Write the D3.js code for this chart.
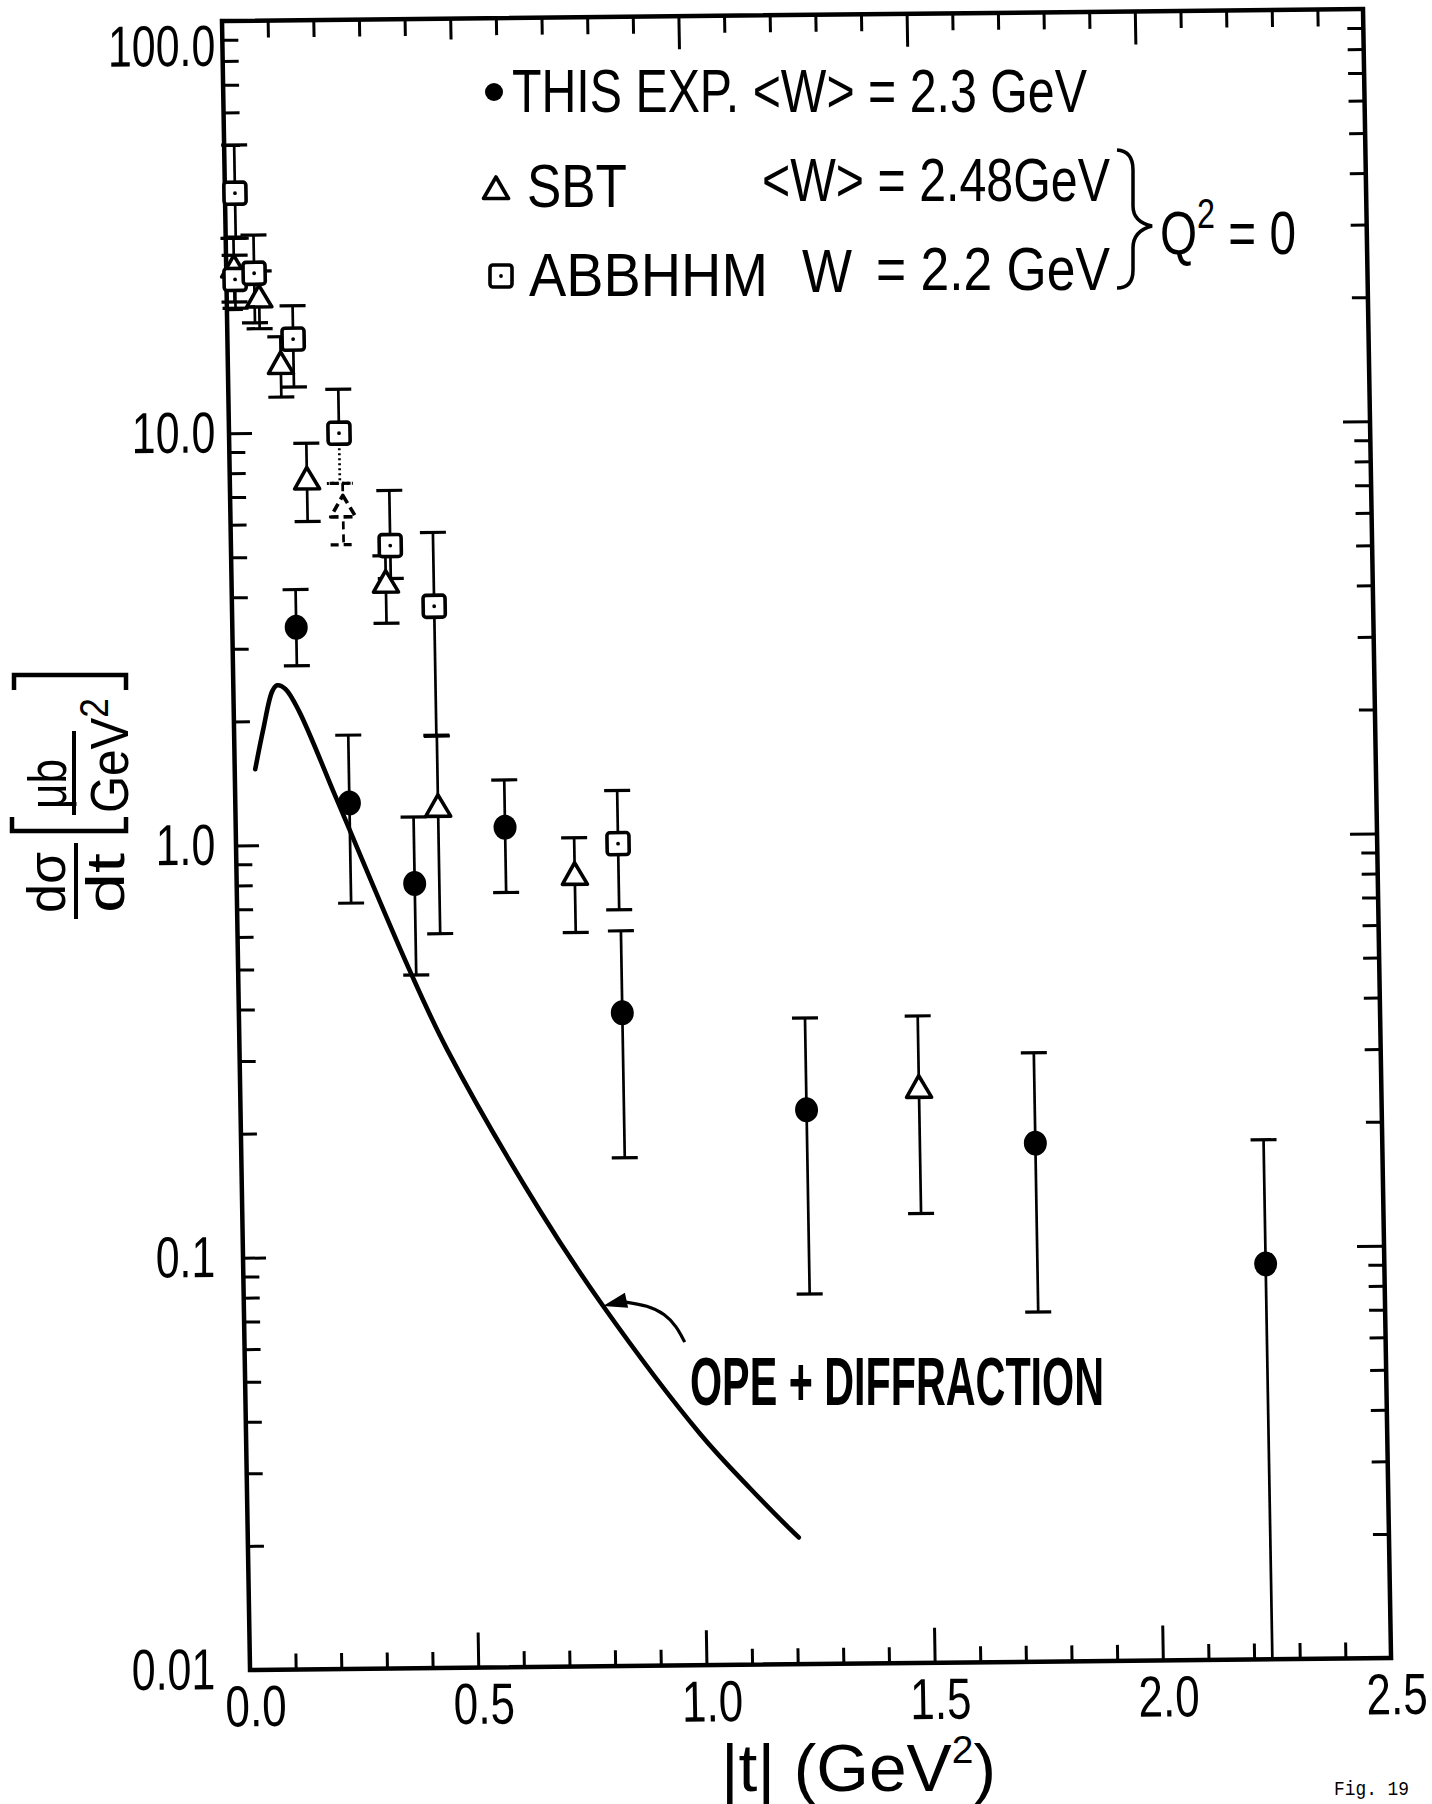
<!DOCTYPE html>
<html>
<head>
<meta charset="utf-8">
<script src="https://cdn.jsdelivr.net/npm/d3@7"></script>
<style>
  html, body { margin: 0; padding: 0; background: #fff; }
  svg { display: block; }
  text { fill: #000; }
</style>
</head>
<body>
<svg id="chart" width="1432" height="1804"></svg>
<script>
// ---- data: |t| (GeV^2), dsigma/dt (microbarn/GeV^2), error-bar ends ----
const thisT  = [0.14, 0.25, 0.39, 0.59, 0.84, 1.24, 1.74, 2.24];
const thisY  = [3.37, 1.26, 0.80, 1.09, 0.384, 0.221, 0.181, 0.091];
const thisHi = [4.16, 1.84, 1.16, 1.42, 0.607, 0.369, 0.300, 0.182];
const thisLo = [2.72, 0.72, 0.48, 0.757, 0.171, 0.079, 0.0705, 0.01];

const sbtT   = [0.017, 0.071, 0.116, 0.169, 0.247, 0.338, 0.444, 0.741, 1.487];
const sbtY   = [25.1, 21.2, 14.6, 7.65, 6.53, 4.28, 1.22, 0.828, 0.247];
const sbtHi  = [29.7, 24.7, 17.1, 9.41, 7.51, 5.0, 1.82, 1.024, 0.371];
const sbtLo  = [20.8, 17.9, 12.2, 6.08, 5.33, 3.43, 0.604, 0.603, 0.123];
const sbtDashed = [false, false, false, false, true, false, false, false, false];

const abbT   = [0.022, 0.019, 0.061, 0.144, 0.241, 0.349, 0.443, 0.837];
const abbY   = [38.2, 23.6, 24.4, 16.85, 9.94, 5.29, 3.76, 0.988];
const abbHi  = [50.0, 27.0, 30.2, 20.3, 12.7, 7.2, 5.68, 1.33];
const abbLo  = [29.7, 20.1, 18.5, 12.9, 7.51, 4.4, 1.83, 0.683];
const abbDottedLow = [false, false, false, false, true, false, false, false];

// OPE + diffraction model curve
const curveT = [0.045, 0.064, 0.085, 0.096, 0.114, 0.143, 0.217, 0.236, 0.376, 0.455, 0.652, 0.787, 0.995, 1.102, 1.188, 1.207];
const curveY = [1.53, 1.91, 2.36, 2.44, 2.39, 2.11, 1.33, 1.18, 0.492, 0.316, 0.128, 0.0748, 0.0364, 0.0268, 0.0213, 0.0203];
const arrowT = 0.787;

// axis ticks and labels
const xLabelValues = [0, 0.5, 1.0, 1.5, 2.0, 2.5];
const xTickLabels  = ["0.0", "0.5", "1.0", "1.5", "2.0", "2.5"];
const yLabelValues = [100, 10, 1, 0.1, 0.01];
const yTickLabels  = ["100.0", "10.0", "1.0", "0.1", "0.01"];

// ---- layout ----
const FONT = "'Liberation Sans', Arial, sans-serif";
const NARROW = "'Liberation Sans Narrow', 'Liberation Sans', Arial, sans-serif";
const W = 1141, H = 1649;
const frameMatrix = "matrix(1,-0.0105,0.017,1,222,21)";   // slightly skewed sheet
const labelMatrix = "matrix(1,-0.0105,0,1,222,21)";

const svg = d3.select("#chart");
svg.append("rect").attr("width", 1432).attr("height", 1804).attr("fill", "#fff");

const plot = svg.append("g").attr("transform", frameMatrix);

const x = d3.scaleLinear().domain([0, 2.5]).range([0, W]);
const y = d3.scaleLog().domain([0.01, 100]).range([H, 0]);

// narrow lettering: squeeze each label horizontally about its own anchor
function condense(sel, k) {
  sel.attr("transform", `scale(${k},1)`);
}
// place a text whose left end sits at (px, py) and whose width is fixed
function fitText(parent, px, py, width, build) {
  const g = parent.append("g").attr("transform", `translate(${px},${py})`);
  const t = g.append("text");
  build(t);
  const w = t.node().getComputedTextLength();
  t.attr("transform", `scale(${width / w},1)`);
  return t;
}

// ---- ticks (inward on all four sides) ----
const xMinor = d3.range(1, 25).filter(i => i % 5 !== 0).map(i => i / 10);
const xMajor = [0.5, 1.0, 1.5, 2.0];
const yMajor = [0.1, 1, 10];
const yMinor = [0.01, 0.1, 1, 10].flatMap(dec => d3.range(2, 10).map(k => +(k * dec).toPrecision(3)));

function tickGroup(axis, transform) {
  const g = plot.append("g").attr("transform", transform || null).call(axis);
  g.select(".domain").remove();
  g.selectAll(".tick line").attr("stroke", "#000").attr("stroke-width", 3);
  g.selectAll(".tick text").remove();
  return g;
}
tickGroup(d3.axisBottom(x).tickValues(xMinor).tickSize(-16), `translate(0,${H})`);
tickGroup(d3.axisBottom(x).tickValues(xMajor).tickSize(-35), `translate(0,${H})`);
tickGroup(d3.axisTop(x).tickValues(xMinor).tickSize(-17));
tickGroup(d3.axisTop(x).tickValues([0.5]).tickSize(-21));
tickGroup(d3.axisTop(x).tickValues([1.0, 1.5, 2.0]).tickSize(-33));
tickGroup(d3.axisLeft(y).tickValues(yMinor).tickSize(-16));
tickGroup(d3.axisLeft(y).tickValues(yMajor).tickSize(-23));
tickGroup(d3.axisRight(y).tickValues(yMinor).tickSize(-16), `translate(${W},0)`);
tickGroup(d3.axisRight(y).tickValues(yMajor).tickSize(-27), `translate(${W},0)`);

// frame
plot.append("rect").attr("x", 0).attr("y", 0).attr("width", W).attr("height", H)
  .attr("fill", "none").attr("stroke", "#000").attr("stroke-width", 4.5);

// ---- tick labels ----
const xl = plot.append("g").attr("transform", `translate(5,${H})`)
  .call(d3.axisBottom(x).tickValues(xLabelValues).tickSize(0).tickPadding(15)
    .tickFormat((d, i) => xTickLabels[i]));
xl.select(".domain").remove();
xl.attr("font-family", FONT).attr("font-size", 58);
condense(xl.selectAll("text"), 0.76);

const yl = svg.append("g").attr("transform", labelMatrix)
  .call(d3.axisLeft(y).tickValues(yLabelValues).tickSize(0).tickPadding(9)
    .tickFormat((d, i) => yTickLabels[i]));
yl.select(".domain").remove();
yl.attr("font-family", FONT).attr("font-size", 58);
yl.selectAll(".tick text").filter(d => d === 100).attr("dy", "0.76em");
condense(yl.selectAll("text"), 0.74);

// ---- model curve ----
const line = d3.line().x(d => x(d[0])).y(d => y(d[1])).curve(d3.curveCatmullRom.alpha(0.5));
plot.append("path").datum(curveT.map((t, i) => [t, curveY[i]]))
  .attr("d", line).attr("fill", "none").attr("stroke", "#000")
  .attr("stroke-width", 4.6).attr("stroke-linejoin", "round").attr("stroke-linecap", "round");

// arrow pointing at the curve
const ai = d3.minIndex(curveT, t => Math.abs(t - arrowT));
const ax = x(curveT[ai]), ay = y(curveY[ai]);
const arrow = plot.append("g").attr("transform", `translate(${ax},${ay})`);
arrow.append("path").attr("d", "M0,0 L22,-13 L25,2 Z").attr("fill", "#000");
arrow.append("path")
  .attr("d", d3.line().curve(d3.curveBasis)([[20, -4], [45, 0], [62, 9], [73, 21], [81, 37]]))
  .attr("fill", "none").attr("stroke", "#000").attr("stroke-width", 3.2);

// ---- error bars and markers ----
const CAP = 13;
function errorBars(T, Y, Hi, Lo, styleUp, styleLow) {
  const g = plot.append("g").attr("stroke", "#000").attr("fill", "none");
  T.forEach((t, i) => {
    const cx = x(t);
    g.append("line").attr("x1", cx).attr("x2", cx).attr("y1", y(Hi[i])).attr("y2", y(Y[i]))
      .attr("stroke-width", 2.7).attr("stroke-dasharray", styleUp(i));
    g.append("line").attr("x1", cx).attr("x2", cx).attr("y1", y(Y[i])).attr("y2", y(Lo[i]))
      .attr("stroke-width", 2.7).attr("stroke-dasharray", styleLow(i));
    g.append("line").attr("x1", cx - CAP).attr("x2", cx + CAP).attr("y1", y(Hi[i])).attr("y2", y(Hi[i]))
      .attr("stroke-width", 3.2).attr("stroke-dasharray", styleUp(i));
    if (Lo[i] > y.domain()[0]) {
      g.append("line").attr("x1", cx - CAP).attr("x2", cx + CAP).attr("y1", y(Lo[i])).attr("y2", y(Lo[i]))
        .attr("stroke-width", 3.2).attr("stroke-dasharray", styleLow(i));
    }
  });
}
errorBars(abbT, abbY, abbHi, abbLo, () => null, i => abbDottedLow[i] ? "2,3" : null);
errorBars(sbtT, sbtY, sbtHi, sbtLo, i => sbtDashed[i] ? "8,5" : null, i => sbtDashed[i] ? "8,5" : null);
errorBars(thisT, thisY, thisHi, thisLo, () => null, () => null);

const triPath = "M0,-13 L12.5,8.5 L-12.5,8.5 Z";
function triangle(g, cx, cy, dashed) {
  g.append("path").attr("d", triPath).attr("transform", `translate(${cx},${cy})`)
    .attr("fill", "#fff").attr("stroke", "#000").attr("stroke-width", 3.6)
    .attr("stroke-linejoin", "round").attr("stroke-dasharray", dashed ? "9,5" : null);
}
function square(g, cx, cy) {
  g.append("rect").attr("x", cx - 11).attr("y", cy - 11).attr("width", 22).attr("height", 22)
    .attr("rx", 3).attr("fill", "#fff").attr("stroke", "#000").attr("stroke-width", 3.6);
  g.append("circle").attr("cx", cx).attr("cy", cy).attr("r", 1.9).attr("fill", "#000");
}

const marks = plot.append("g");
sbtT.forEach((t, i) => triangle(marks, x(t), y(sbtY[i]), sbtDashed[i]));
abbT.forEach((t, i) => square(marks, x(t), y(abbY[i])));
thisT.forEach((t, i) => marks.append("ellipse").attr("cx", x(t)).attr("cy", y(thisY[i]))
  .attr("rx", 11.5).attr("ry", 12.5).attr("fill", "#000"));

// ---- legend ----
const leg = svg.append("g").attr("font-family", NARROW).attr("font-size", 62);
leg.append("circle").attr("cx", 494).attr("cy", 92).attr("r", 9).attr("fill", "#000");
fitText(leg, 512, 112, 575, t => t.text("THIS EXP. <W> = 2.3 GeV"));

triangle(leg, 496, 190, false);
fitText(leg, 527, 207, 100, t => t.text("SBT"));
fitText(leg, 762, 201, 348, t => t.text("<W> = 2.48GeV"));

square(leg, 501, 276);
fitText(leg, 529, 296, 239, t => t.text("ABBHHM"));
fitText(leg, 802, 292, 50, t => t.text("W"));
fitText(leg, 876, 290, 234, t => t.text("= 2.2 GeV"));

// brace grouping the two Q^2 = 0 entries
leg.append("path")
  .attr("d", "M1117,150 Q1133,151 1133,170 L1133,206 Q1133,222 1152,226 Q1133,231 1133,248 L1133,270 Q1133,288 1117,288")
  .attr("fill", "none").attr("stroke", "#000").attr("stroke-width", 3.5);
fitText(leg, 1160, 254, 136, t => {
  t.append("tspan").text("Q");
  t.append("tspan").attr("dy", -26).attr("font-size", 42).text("2");
  t.append("tspan").attr("dy", 26).text(" = 0");
});

// ---- curve annotation ----
const ann = svg.append("g").attr("font-family", NARROW).attr("font-weight", "bold").attr("font-size", 68);
fitText(ann, 690, 1405, 414, t => t.text("OPE + DIFFRACTION"));

// ---- axis titles ----
const xt = svg.append("g").attr("font-family", FONT).attr("font-size", 66);
fitText(xt, 721, 1791, 275, t => {
  t.append("tspan").text("|t| (GeV");
  t.append("tspan").attr("dy", -28).attr("font-size", 38).text("2");
  t.append("tspan").attr("dy", 28).text(")");
});

// rotated y title: dσ/dt [μb/GeV²]
const yt = svg.append("g").attr("transform", "translate(0,921) rotate(-90)")
  .attr("font-family", FONT).attr("font-size", 54);
fitText(yt, 8, 65, 61, t => t.text("dσ"));
yt.append("line").attr("x1", 2).attr("x2", 78).attr("y1", 76).attr("y2", 76)
  .attr("stroke", "#000").attr("stroke-width", 4);
fitText(yt, 8, 124, 60, t => t.text("dt"));
yt.append("path").attr("d", "M104,12 L90,12 L90,126 L104,126")
  .attr("fill", "none").attr("stroke", "#000").attr("stroke-width", 4.5);
fitText(yt, 112, 66, 50, t => t.text("μb"));
yt.append("line").attr("x1", 106).attr("x2", 190).attr("y1", 74).attr("y2", 74)
  .attr("stroke", "#000").attr("stroke-width", 4);
fitText(yt, 108, 128, 115, t => {
  t.append("tspan").text("GeV");
  t.append("tspan").attr("dy", -20).attr("font-size", 40).text("2");
});
yt.append("path").attr("d", "M231,14 L246,14 L246,126 L231,126")
  .attr("fill", "none").attr("stroke", "#000").attr("stroke-width", 4.5);

// figure number
const fig = svg.append("g").attr("font-family", "'Liberation Mono', 'DejaVu Sans Mono', monospace").attr("font-size", 21);
fitText(fig, 1334, 1795, 75, t => t.text("Fig. 19"));
</script>
</body>
</html>
